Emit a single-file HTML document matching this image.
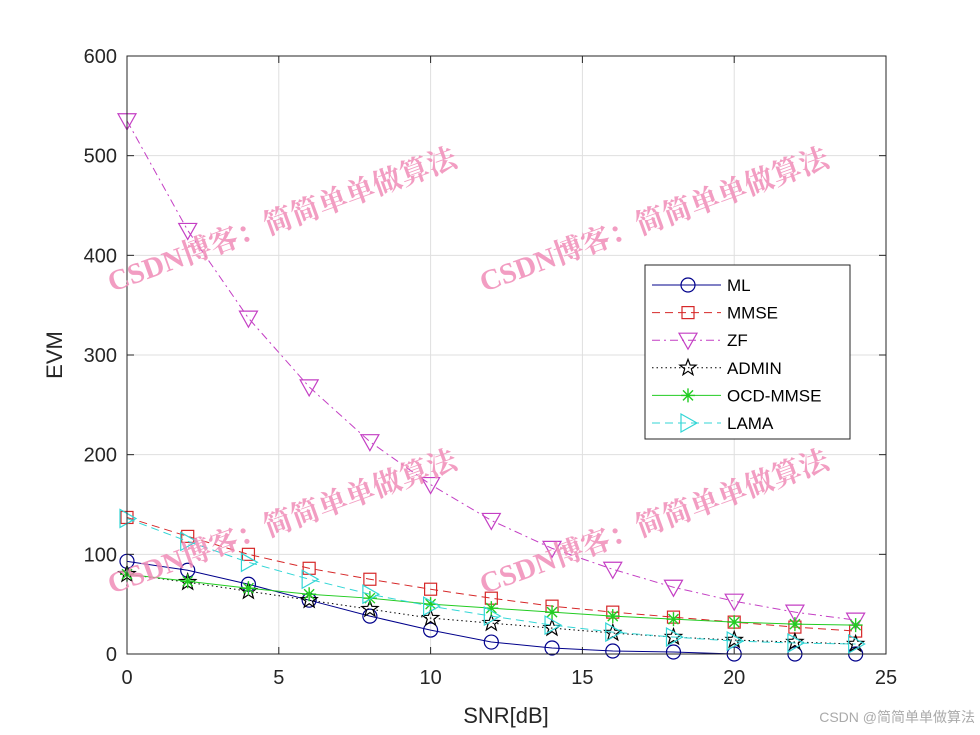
<!DOCTYPE html>
<html><head><meta charset="utf-8">
<style>
html,body{margin:0;padding:0;background:#fff;}
svg{display:block;font-family:"Liberation Sans",Arial,sans-serif;}
.wm{font-family:"Liberation Serif","Noto Serif CJK SC",serif;font-weight:bold;fill:#f08cb8;font-size:29px;opacity:0.85;}
</style></head>
<body>
<svg id="chart" width="980" height="735" viewBox="0 0 980 735">
<rect x="0" y="0" width="980" height="735" fill="#fff"/>
<g id="grid"></g>
<g id="series"></g>
<rect x="127" y="56" width="759" height="598" fill="none" stroke="#262626" stroke-width="1"/>
<g id="ticks"></g>
<text x="506" y="723" font-size="22" text-anchor="middle" fill="#262626">SNR[dB]</text>
<text x="62" y="355" font-size="22" text-anchor="middle" fill="#262626" transform="rotate(-90 62 355)">EVM</text>
<g id="legend"></g>
<g>
<text class="wm" x="112" y="292" transform="rotate(-20 112 292)">CSDN博客：简简单单做算法</text>
<text class="wm" x="484" y="292" transform="rotate(-20 484 292)">CSDN博客：简简单单做算法</text>
<text class="wm" x="112" y="594" transform="rotate(-20 112 594)">CSDN博客：简简单单做算法</text>
<text class="wm" x="484" y="594" transform="rotate(-20 484 594)">CSDN博客：简简单单做算法</text>
</g>
<text x="975" y="722" font-size="14" text-anchor="end" fill="#aaa" font-family="Liberation Sans,Noto Sans CJK SC,sans-serif">CSDN @简简单单做算法</text>
</svg>
<script>
const snr = [0,2,4,6,8,10,12,14,16,18,20,22,24];
const mlVals = [93,84,70,54,38,24,12,6,3,2,0,0,0];
const mmseVals = [137,118,100,86,75,65,56,48,42,37,32,27,23];
const zfVals = [535,425,337,268,213,170,134,106,85,67,53,42,34];
const adminVals = [80,72,63,54,45,36,31,26,21,17,14,12,10];
const ocdVals = [80,73,66,60,56,50,46,42,38,35,32,30,29];
const lamaVals = [136,113,92,75,60,48,38,29,22,17,13,11,10];
const xTicks = [0,5,10,15,20,25];
const yTicks = [0,100,200,300,400,500,600];

const NS='http://www.w3.org/2000/svg';
const X0=127,X1=886,Y0=654,Y1=56;
const xs=v=>X0+(v-0)/25*(X1-X0);
const ys=v=>Y0-(v-0)/600*(Y0-Y1);
function mk(tag,attrs,parent){const e=document.createElementNS(NS,tag);for(const k in attrs)e.setAttribute(k,attrs[k]);parent.appendChild(e);return e;}

const grid=document.getElementById('grid'),ticks=document.getElementById('ticks');
xTicks.forEach(t=>{
  const l=mk('line',{x1:xs(t),x2:xs(t),y1:Y1,y2:Y0,stroke:'#dfdfdf','stroke-width':1},grid);
  
  
  const k=mk('line',{x1:xs(t),x2:xs(t),y1:Y0,y2:Y0-7,stroke:'#262626'},ticks);
  
  
  const k2=mk('line',{x1:xs(t),x2:xs(t),y1:Y1,y2:Y1+7,stroke:'#262626'},ticks);
  
  
  const tx=mk('text',{x:xs(t),y:Y0+30,'font-size':20,'text-anchor':'middle',fill:'#262626'},ticks);
  tx.textContent=t;
  
  
});
yTicks.forEach(t=>{
  const l=mk('line',{x1:X0,x2:X1,y1:ys(t),y2:ys(t),stroke:'#dfdfdf','stroke-width':1},grid);
  
  
  const k=mk('line',{x1:X0,x2:X0+7,y1:ys(t),y2:ys(t),stroke:'#262626'},ticks);
  
  
  const k2=mk('line',{x1:X1,x2:X1-7,y1:ys(t),y2:ys(t),stroke:'#262626'},ticks);
  
  
  const tx=mk('text',{x:X0-10,y:ys(t)+7,'font-size':20,'text-anchor':'end',fill:'#262626'},ticks);
  tx.textContent=t;
  
  
});

function marker(type,x,y,color,parent){
  let e;
  if(type==='o') e=mk('circle',{cx:x,cy:y,r:7,fill:'none',stroke:color,'stroke-width':1.2},parent);
  else if(type==='s') e=mk('rect',{x:x-6,y:y-6,width:12,height:12,fill:'none',stroke:color,'stroke-width':1.2},parent);
  else if(type==='v') e=mk('polygon',{points:`${x-9},${y-7} ${x+9},${y-7} ${x},${y+9}`,fill:'none',stroke:color,'stroke-width':1.2},parent);
  else if(type==='>') e=mk('polygon',{points:`${x-7},${y-9} ${x-7},${y+9} ${x+9},${y}`,fill:'none',stroke:color,'stroke-width':1.2},parent);
  else if(type==='p'){let pts=[];for(let i=0;i<10;i++){const r=i%2?3.5:8.5,a=-Math.PI/2+i*Math.PI/5;pts.push((x+r*Math.cos(a)).toFixed(1)+','+(y+r*Math.sin(a)).toFixed(1));}
    e=mk('polygon',{points:pts.join(' '),fill:'none',stroke:color,'stroke-width':1.2},parent);}
  else if(type==='*'){e=mk('path',{d:`M${x-7},${y}H${x+7}M${x},${y-7}V${y+7}M${x-5},${y-5}L${x+5},${y+5}M${x-5},${y+5}L${x+5},${y-5}`,stroke:color,'stroke-width':1.4},parent);}
  return e;
}
const defs=[
 {name:'ML',vals:mlVals,color:'#00008b',dash:'',m:'o'},
 {name:'MMSE',vals:mmseVals,color:'#d62728',dash:'8,5',m:'s'},
 {name:'ZF',vals:zfVals,color:'#c43fc4',dash:'8,4,2,4',m:'v'},
 {name:'ADMIN',vals:adminVals,color:'#000',dash:'1.5,3',m:'p'},
 {name:'OCD-MMSE',vals:ocdVals,color:'#22cc22',dash:'',m:'*'},
 {name:'LAMA',vals:lamaVals,color:'#33d6d6',dash:'8,5',m:'>'}
];
const sg=document.getElementById('series');
defs.forEach(d=>{
  const g=mk('g',{},sg);
  
  
  const p=mk('polyline',{points:snr.map((s,i)=>xs(s)+','+ys(d.vals[i])).join(' '),fill:'none',stroke:d.color,'stroke-width':1,'stroke-dasharray':d.dash},g);
  
  
  snr.forEach((s,i)=>{
    const m=marker(d.m,xs(s),ys(d.vals[i]),d.color,g);
    
    
  });
});
const lg=document.getElementById('legend');
const box=mk('rect',{x:645,y:265,width:205,height:174,fill:'#fff',stroke:'#262626','stroke-width':1},lg);


defs.forEach((d,i)=>{
  const y=285+i*27.6;
  const g=mk('g',{},lg);
  
  
  mk('line',{x1:652,x2:721,y1:y,y2:y,stroke:d.color,'stroke-width':1,'stroke-dasharray':d.dash},g);
  marker(d.m,688,y,d.color,g);
  const t=mk('text',{x:727,y:y+6,'font-size':17,fill:'#000'},g);
  t.textContent=d.name;
});
</script>
</body></html>
